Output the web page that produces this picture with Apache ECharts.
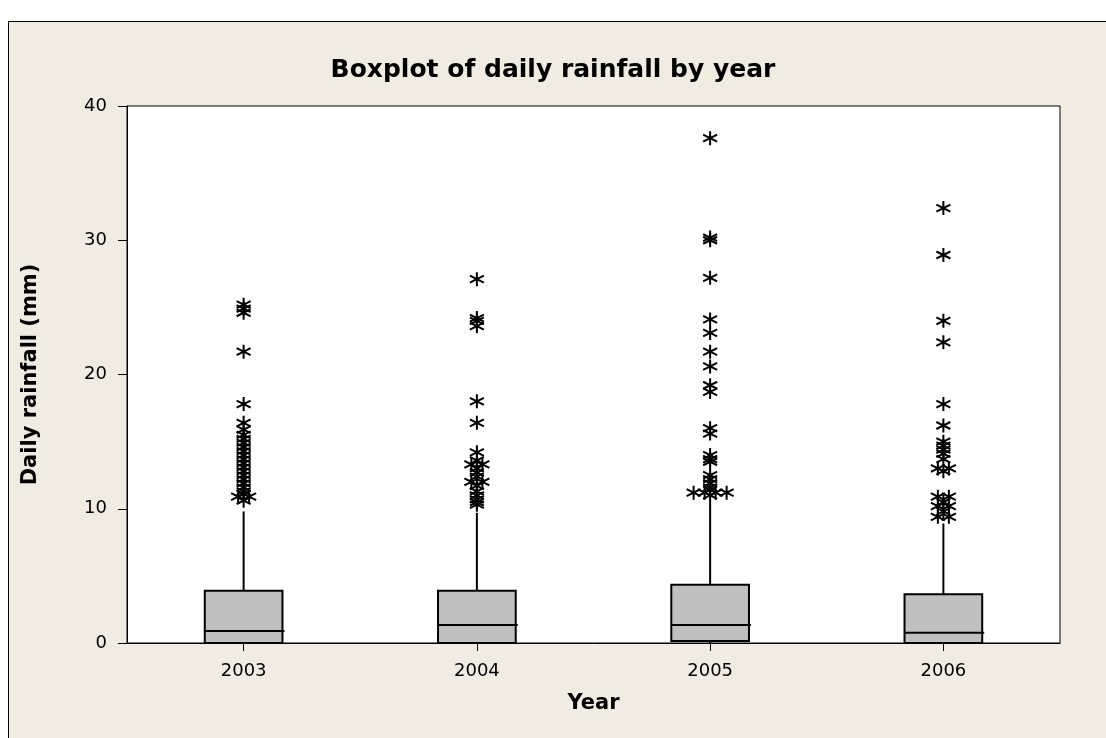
<!DOCTYPE html>
<html>
<head>
<meta charset="utf-8">
<script src="https://cdn.jsdelivr.net/npm/echarts@6/dist/echarts.min.js"></script>
<style>
  html, body { margin: 0; padding: 0; background: #fff; }
  #frame { position: absolute; left: 8px; top: 21px; width: 1200px; height: 800px;
           background: #f0ece2; border-left: 1px solid #000; border-top: 1px solid #000; }
  #chart { position: absolute; left: 0; top: 0; width: 1106px; height: 738px; }
</style>
</head>
<body>
<div id="frame"></div>
<div id="chart"></div>
<script>
const years = ['2003', '2004', '2005', '2006'];
const yTicks = [0, 10, 20, 30, 40];

// five-number summaries
const boxMin = [0, 0, 0, 0];
const boxQ1 = [0, 0, 0.15, 0];
const boxMedian = [0.9, 1.35, 1.35, 0.77];
const boxQ3 = [3.9, 3.9, 4.34, 3.64];
const boxMax = [9.8, 9.7, 10.5, 8.9];

// outliers (repeated values = tied points, drawn side by side)
const out2003 = [25.2, 24.9, 24.6, 21.7, 17.8, 16.4, 15.9, 15.5, 15.2, 14.9, 14.6, 14.3, 14.0, 13.7,
  13.4, 13.1, 12.8, 12.5, 12.2, 11.9, 11.6, 11.3, 11.1, 10.9, 10.9, 10.6];
const out2004 = [27.1, 24.2, 24.0, 23.6, 18.0, 16.4, 14.2, 13.6, 13.3, 13.3, 13.0, 12.7, 12.4,
  12.0, 12.0, 11.7, 11.3, 11.0, 10.7, 10.5, 10.3];
const out2005 = [37.6, 30.2, 30.0, 27.2, 24.1, 23.1, 21.7, 20.6, 19.2, 18.7, 16.0, 15.6, 14.0, 13.7,
  13.5, 12.5, 12.2, 11.9, 11.6, 11.4, 11.2, 11.2, 11.2, 11.2, 11.0];
const out2006 = [32.4, 28.9, 24.0, 22.4, 17.8, 16.2, 15.0, 14.7, 14.4, 14.1, 13.7, 13.0, 13.0, 12.8,
  10.9, 10.9, 10.5, 10.2, 10.2, 9.8, 9.4, 9.4];
const outliers = [out2003, out2004, out2005, out2006];

const chart = echarts.init(document.getElementById('chart'));
const font = '"DejaVu Sans", Verdana, sans-serif';
const TIE_GAP = 11;
const star = 'path://M0,-10L0,10M-8.66,-5L8.66,5M-8.66,5L8.66,-5';

// split tied points into series by their horizontal offset
const offsetGroups = {};
outliers.forEach((vals, i) => {
  const counts = {};
  vals.forEach(v => { counts[v] = (counts[v] || 0) + 1; });
  const seen = {};
  vals.forEach(v => {
    const k = counts[v];
    const j = seen[v] = (seen[v] === undefined ? 0 : seen[v] + 1);
    const off = (j - (k - 1) / 2) * TIE_GAP;
    (offsetGroups[off] = offsetGroups[off] || []).push([i, v]);
  });
});

const outlierSeries = Object.keys(offsetGroups).map(off => ({
  type: 'scatter',
  data: offsetGroups[off],
  symbol: star,
  symbolSize: 14,
  symbolOffset: [Number(off), 0],
  itemStyle: { color: 'transparent', borderColor: '#000', borderWidth: 2, opacity: 1 },
  z: 5,
  silent: true
}));

const boxData = years.map((y, i) => [i, boxMin[i], boxQ1[i], boxMedian[i], boxQ3[i], boxMax[i]]);

const option = {
  backgroundColor: 'transparent',
  animation: false,
  title: {
    text: 'Boxplot of daily rainfall by year',
    left: 'center',
    top: 53,
    textStyle: { color: '#000', fontSize: 25, fontWeight: 'bold', fontFamily: font }
  },
  grid: {
    left: 127, right: 46, top: 106, bottom: 95,
    show: true, backgroundColor: '#fff', borderColor: '#000', borderWidth: 1
  },
  xAxis: {
    type: 'category',
    data: years,
    name: 'Year',
    nameLocation: 'middle',
    nameGap: 50,
    nameTextStyle: { color: '#000', fontSize: 21, fontWeight: 'bold', fontFamily: font },
    axisLine: { show: true, lineStyle: { color: '#000', width: 1 } },
    axisTick: { show: true, alignWithLabel: true, length: 8, lineStyle: { color: '#000' } },
    axisLabel: { color: '#000', fontSize: 18, fontFamily: font, margin: 19 },
    splitLine: { show: false }
  },
  yAxis: {
    type: 'value',
    min: yTicks[0],
    max: yTicks[yTicks.length - 1],
    interval: 10,
    name: 'Daily rainfall (mm)',
    nameLocation: 'middle',
    nameGap: 86,
    nameTextStyle: { color: '#000', fontSize: 21, fontWeight: 'bold', fontFamily: font },
    axisLine: { show: true, lineStyle: { color: '#000', width: 1 } },
    axisTick: { show: true, length: 9, lineStyle: { color: '#000' } },
    axisLabel: { color: '#000', fontSize: 18, fontFamily: font, margin: 20 },
    splitLine: { show: false }
  },
  series: [{
    type: 'custom',
    data: boxData,
    encode: { x: 0, y: [1, 2, 3, 4, 5] },
    z: 3,
    renderItem: (params, api) => {
      const x = api.value(0);
      const pMin = api.coord([x, api.value(1)]);
      const pQ1 = api.coord([x, api.value(2)]);
      const pMed = api.coord([x, api.value(3)]);
      const pQ3 = api.coord([x, api.value(4)]);
      const pMax = api.coord([x, api.value(5)]);
      const half = api.size([1, 0])[0] * 0.333 / 2;
      const line = { stroke: '#000', lineWidth: 2 };
      return {
        type: 'group',
        children: [
          { type: 'line', shape: { x1: pMax[0], y1: pMax[1], x2: pQ3[0], y2: pQ3[1] }, style: line },
          { type: 'line', shape: { x1: pQ1[0], y1: pQ1[1], x2: pMin[0], y2: pMin[1] }, style: line },
          { type: 'rect', shape: { x: pQ3[0] - half, y: pQ3[1], width: half * 2, height: pQ1[1] - pQ3[1] },
            style: { fill: '#c0c0c0', stroke: '#000', lineWidth: 2 } },
          { type: 'line', shape: { x1: pMed[0] - half, y1: pMed[1], x2: pMed[0] + half + 2, y2: pMed[1] }, style: line }
        ]
      };
    }
  }].concat(outlierSeries)
};

chart.setOption(option);
window.addEventListener('resize', () => chart.resize());
</script>
</body>
</html>
